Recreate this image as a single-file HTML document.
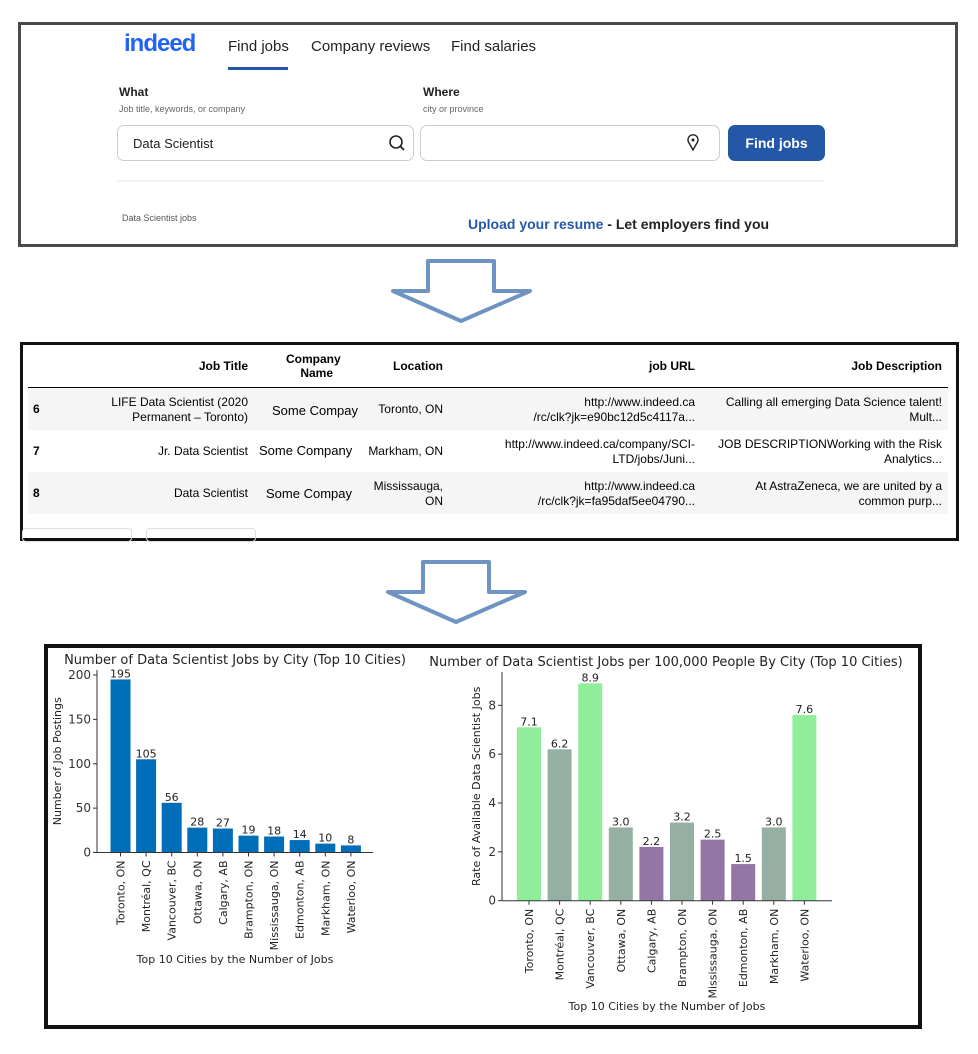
<!DOCTYPE html>
<html><head><meta charset="utf-8">
<style>
body{margin:0;width:978px;height:1054px;background:#fff;position:relative;overflow:hidden;font-family:"Liberation Sans",sans-serif}
.a{position:absolute;white-space:nowrap}
.box{position:absolute;box-sizing:border-box}
.tb{font-family:"Liberation Sans",sans-serif;font-size:12px;color:#000}
.r{text-align:right}
</style></head><body>
<div class="box" style="left:18px;top:22px;width:940px;height:225px;border:3px solid #4a4a4a"></div>
<div class="a" style="left:124px;top:30px;font-size:24px;font-weight:bold;color:#2164f3;letter-spacing:-1px">indeed</div>
<div class="a" style="left:228px;top:38px;font-size:15px;color:#222">Find jobs</div>
<div class="box" style="left:228px;top:67px;width:60px;height:3px;background:#2557a7"></div>
<div class="a" style="left:311px;top:38px;font-size:15px;color:#222">Company reviews</div>
<div class="a" style="left:451px;top:38px;font-size:15px;color:#222">Find salaries</div>
<div class="a" style="left:119px;top:85px;font-size:12px;font-weight:bold;color:#222">What</div>
<div class="a" style="left:119px;top:104px;font-size:9px;color:#666">Job title, keywords, or company</div>
<div class="a" style="left:423px;top:85px;font-size:12px;font-weight:bold;color:#222">Where</div>
<div class="a" style="left:423px;top:104px;font-size:9px;color:#666">city or province</div>
<div class="box" style="left:117px;top:125px;width:297px;height:36px;border:1px solid #ccc;border-radius:7px"></div>
<div class="a" style="left:133px;top:136px;font-size:13px;color:#222">Data Scientist</div>
<svg class="a" style="left:388px;top:134px" width="18" height="18"><circle cx="8" cy="8" r="6" fill="none" stroke="#222" stroke-width="1.6"/><line x1="12" y1="12" x2="16" y2="16" stroke="#222" stroke-width="1.8"/></svg>
<div class="box" style="left:420px;top:125px;width:300px;height:36px;border:1px solid #ccc;border-radius:7px"></div>
<svg class="a" style="left:686px;top:134px" width="14" height="18"><path d="M7 16 L2.5 8 A5 5 0 1 1 11.5 8 Z" fill="none" stroke="#222" stroke-width="1.4"/><circle cx="7" cy="6" r="1.5" fill="#222"/></svg>
<div class="box" style="left:728px;top:125px;width:97px;height:36px;background:#2557a7;border-radius:7px;color:#fff;font-size:14px;font-weight:bold;text-align:center;line-height:36px">Find jobs</div>
<div class="box" style="left:117px;top:180px;width:706px;height:2px;background:#f2f2f2"></div>
<div class="a" style="left:122px;top:213px;font-size:9px;color:#555">Data Scientist jobs</div>
<div class="a" style="left:468px;top:216px;font-size:14px;font-weight:bold;color:#222"><span style="color:#2557a7">Upload your resume</span> - Let employers find you</div>

<svg class="a" style="left:0;top:0" width="978" height="1054">
<path d="M428 261 L494 261 L494 291 L530 291 L461 321 L393 291 L428 291 Z" fill="#fff" stroke="#7094c2" stroke-width="4" stroke-linejoin="round"/>
<path d="M423 562 L489 562 L489 592 L525 592 L456 622 L388 592 L423 592 Z" fill="#fff" stroke="#7094c2" stroke-width="4" stroke-linejoin="round"/>
</svg>

<div class="box" style="left:20px;top:342px;width:939px;height:199px;border:3px solid #111"></div>
<div class="box" style="left:28px;top:388px;width:920px;height:42px;background:#f5f5f5"></div>
<div class="box" style="left:28px;top:472px;width:920px;height:42px;background:#f5f5f5"></div>
<div class="box" style="left:28px;top:387px;width:920px;height:1px;background:#000"></div>
<div class="a tb r" style="right:730px;top:359px;font-weight:bold">Job Title</div>
<div class="a tb" style="left:286px;top:352px;font-weight:bold;text-align:center;line-height:14px">Company<br>&nbsp;&nbsp;Name</div>
<div class="a tb r" style="right:535px;top:359px;font-weight:bold">Location</div>
<div class="a tb r" style="right:283px;top:359px;font-weight:bold">job URL</div>
<div class="a tb r" style="right:36px;top:359px;font-weight:bold">Job Description</div>

<div class="a tb" style="left:33px;top:402px;font-weight:bold">6</div>
<div class="a tb r" style="right:730px;top:395px;line-height:15px">LIFE Data Scientist (2020<br>Permanent – Toronto)</div>
<div class="a" style="left:272px;top:403px;font-size:13px;color:#000">Some Compay</div>
<div class="a tb r" style="right:535px;top:402px">Toronto, ON</div>
<div class="a tb r" style="right:283px;top:395px;line-height:15px">http://www.indeed.ca<br>/rc/clk?jk=e90bc12d5c4117a...</div>
<div class="a tb r" style="right:36px;top:395px;line-height:15px">Calling all emerging Data Science talent!<br>Mult...</div>

<div class="a tb" style="left:33px;top:444px;font-weight:bold">7</div>
<div class="a tb r" style="right:730px;top:444px">Jr. Data Scientist</div>
<div class="a" style="left:259px;top:443px;font-size:13px;color:#000">Some Company</div>
<div class="a tb r" style="right:535px;top:444px">Markham, ON</div>
<div class="a tb r" style="right:283px;top:437px;line-height:15px">http://www.indeed.ca/company/SCI-<br>LTD/jobs/Juni...</div>
<div class="a tb r" style="right:36px;top:437px;line-height:15px">JOB DESCRIPTIONWorking with the Risk<br>Analytics...</div>

<div class="a tb" style="left:33px;top:486px;font-weight:bold">8</div>
<div class="a tb r" style="right:730px;top:486px">Data Scientist</div>
<div class="a" style="left:266px;top:486px;font-size:13px;color:#000">Some Compay</div>
<div class="a tb r" style="right:535px;top:479px;line-height:15px">Mississauga,<br>ON</div>
<div class="a tb r" style="right:283px;top:479px;line-height:15px">http://www.indeed.ca<br>/rc/clk?jk=fa95daf5ee04790...</div>
<div class="a tb r" style="right:36px;top:479px;line-height:15px">At AstraZeneca, we are united by a<br>common purp...</div>
<div class="box" style="left:22px;top:528px;width:110px;height:14px;border:1px solid #ddd;border-radius:4px"></div>
<div class="box" style="left:146px;top:528px;width:110px;height:14px;border:1px solid #ddd;border-radius:4px"></div>

<div class="box" style="left:44px;top:644px;width:878px;height:385px;border:4px solid #111"></div>
<svg id="charts" class="a" style="left:0;top:0" width="978" height="1054" font-family="DejaVu Sans, sans-serif"></svg>

<script>
const cities = ["Toronto, ON","Montréal, QC","Vancouver, BC","Ottawa, ON","Calgary, AB","Brampton, ON","Mississauga, ON","Edmonton, AB","Markham, ON","Waterloo, ON"];
const jobCounts = [195,105,56,28,27,19,18,14,10,8];
const jobTicks = [0,50,100,150,200];
const rates = [7.1,6.2,8.9,3.0,2.2,3.2,2.5,1.5,3.0,7.6];
const rateLabels = ["7.1","6.2","8.9","3.0","2.2","3.2","2.5","1.5","3.0","7.6"];
const rateTicks = [0,2,4,6,8];
const rateGroups = ["high","mid","high","mid","low","mid","low","low","mid","high"];

const NS="http://www.w3.org/2000/svg";
const svg=document.getElementById('charts');
function mk(tag,attrs,parent,text){const e=document.createElementNS(NS,tag);for(const k in attrs)e.setAttribute(k,attrs[k]);if(text!==undefined)e.textContent=text;(parent||svg).appendChild(e);return e;}

function chart(cfg){
  const g=mk('g',{});
  
  
  const y=v=>cfg.y0-(v/cfg.ymax)*(cfg.y0-cfg.yTop);
  const x=i=>cfg.x0+i*cfg.step;
  const t=mk('text',{x:cfg.titleX,y:cfg.titleY,'font-size':13,'text-anchor':'middle',fill:'#222'},g,cfg.title);
  
  
  cfg.ticks.forEach(v=>{
    mk('line',{x1:cfg.axL-4,x2:cfg.axL,y1:y(v),y2:y(v),stroke:'#333'},g);
    const tl=mk('text',{x:cfg.axL-6,y:y(v)+4,'font-size':12,'text-anchor':'end',fill:'#333'},g,String(v));
    
    
  });
  cfg.values.forEach((v,i)=>{
    const r=mk('rect',{x:x(i)-cfg.bw/2,y:y(v),width:cfg.bw,height:cfg.y0-y(v),fill:cfg.color(i)},g);
    
    
    const lb=mk('text',{x:x(i),y:y(v)-2,'font-size':11,'text-anchor':'middle',fill:'#222'},g,cfg.labels[i]);
    
    
    mk('line',{x1:x(i),x2:x(i),y1:cfg.y0,y2:cfg.y0+4,stroke:'#333'},g);
    const cl=mk('text',{x:0,y:0,'font-size':11,'text-anchor':'end',fill:'#222',transform:`translate(${x(i)+4},${cfg.y0+8}) rotate(-90)`},g,cfg.cats[i]);
    
    
  });
  mk('line',{x1:cfg.axL,x2:cfg.axL,y1:cfg.spineTop,y2:cfg.y0,stroke:'#333'},g);
  mk('line',{x1:cfg.axL,x2:cfg.axR,y1:cfg.y0,y2:cfg.y0,stroke:'#333'},g);
  const xt=mk('text',{x:(cfg.axL+cfg.axR)/2,y:cfg.xTitleY,'font-size':11,'text-anchor':'middle',fill:'#222'},g,'Top 10 Cities by the Number of Jobs');
  
  
  const yt=mk('text',{x:0,y:0,'font-size':11,'text-anchor':'middle',fill:'#222',transform:`translate(${cfg.yTitleX},${(cfg.y0+cfg.spineTop)/2}) rotate(-90)`},g,cfg.yTitle);
  
  
}
chart({name:'jobs-by-city-chart',title:'Number of Data Scientist Jobs by City (Top 10 Cities)',titleX:235,titleY:664,
  cats:cities,values:jobCounts,labels:jobCounts.map(String),ticks:jobTicks,ymax:200,y0:852.5,yTop:675,spineTop:670,
  x0:120.5,step:25.6,bw:20,axL:97,axR:373,color:()=>'#006eb8',xTitleY:963,yTitleX:61,yTitle:'Number of Job Postings'});
const gc={high:'#90ee9b',mid:'#95b0a2',low:'#9575a6'};
chart({name:'jobs-per-capita-chart',title:'Number of Data Scientist Jobs per 100,000 People By City (Top 10 Cities)',titleX:666,titleY:666,
  cats:cities,values:rates,labels:rateLabels,ticks:rateTicks,ymax:8,y0:900.7,yTop:705.3,spineTop:672,
  x0:529,step:30.6,bw:24,axL:502,axR:832,color:i=>gc[rateGroups[i]],xTitleY:1010,yTitleX:480,yTitle:'Rate of Available Data Scientist Jobs'});
</script>
</body></html>
